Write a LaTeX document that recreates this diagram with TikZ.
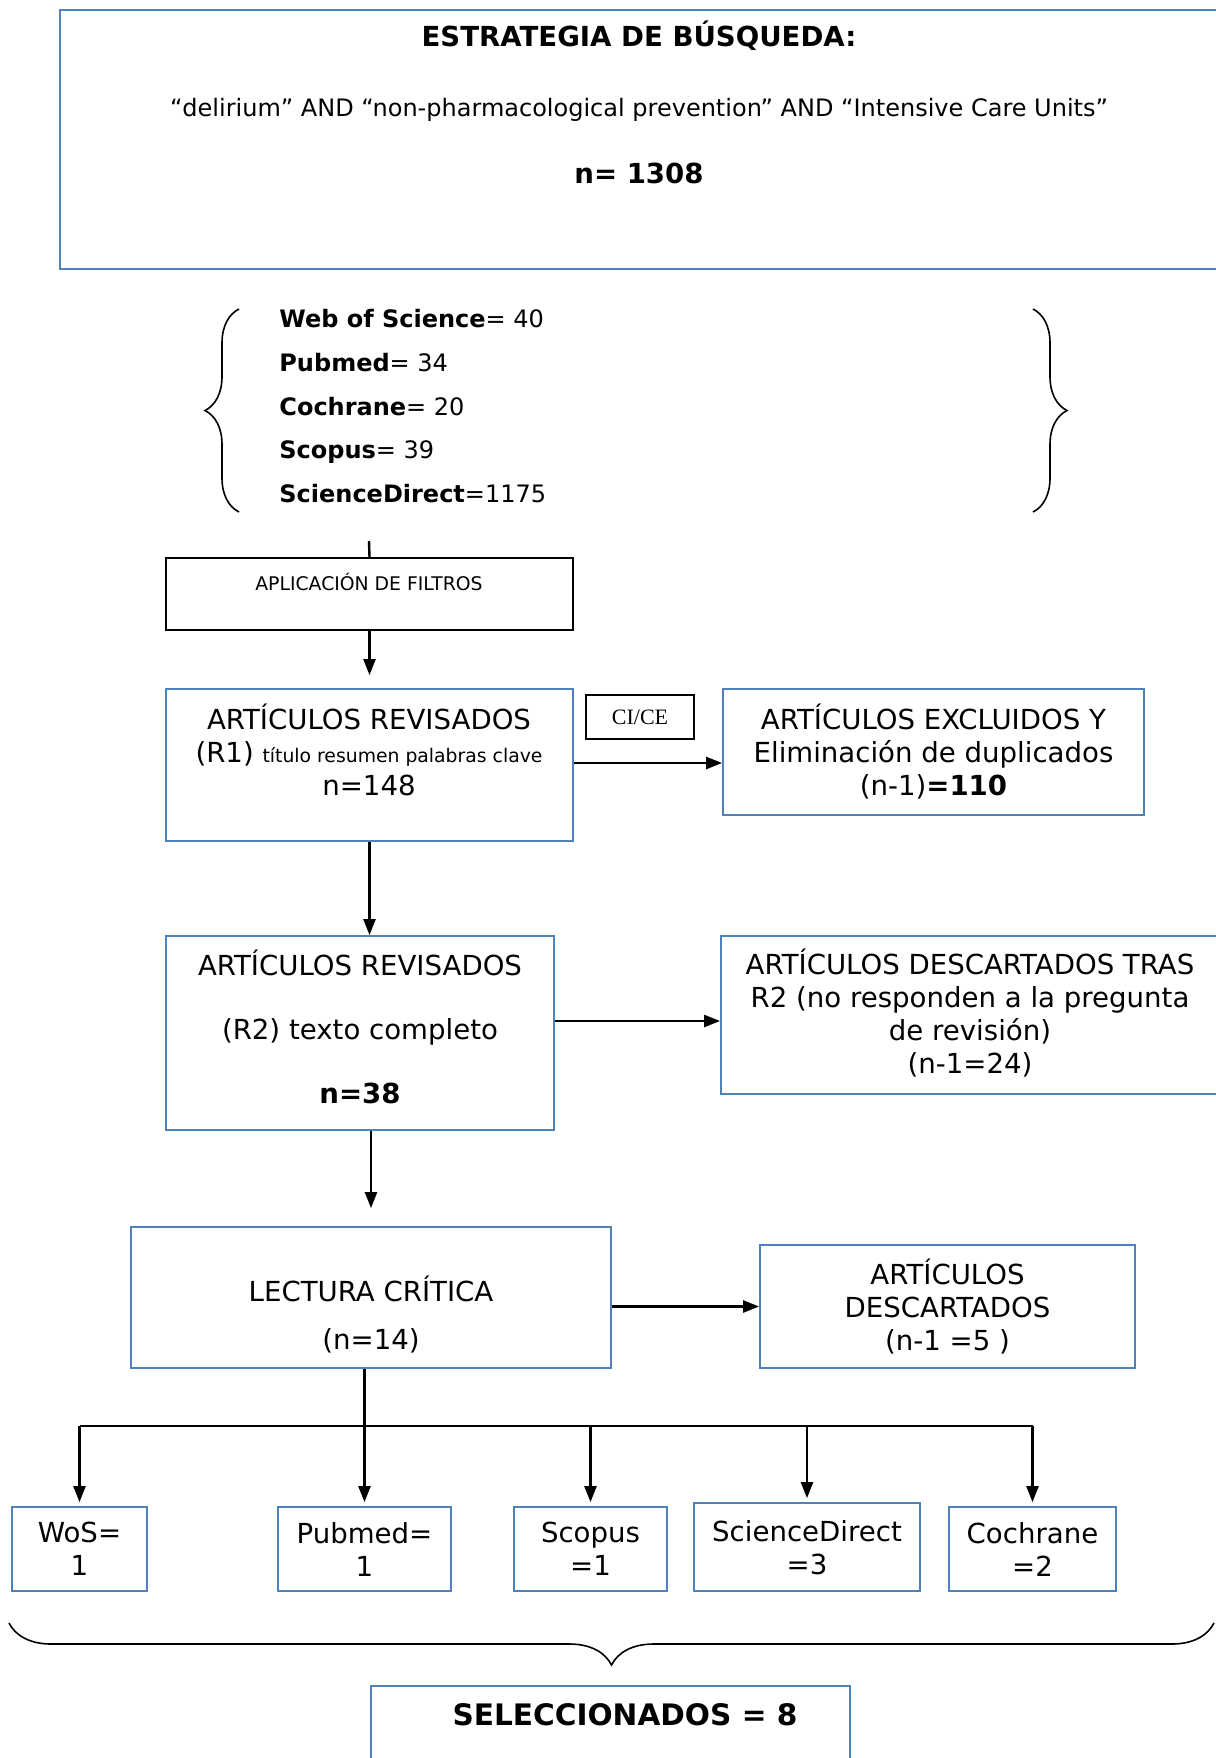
\documentclass[tikz,border=0pt]{standalone}
\usepackage{fontspec}
\setmainfont{DejaVu Sans}
\newfontfamily\cicefont{Liberation Serif}
\usepackage{tikz}
\usetikzlibrary{positioning}
\usetikzlibrary{arrows.meta}
\usetikzlibrary{decorations.pathreplacing}
\usepackage{xcolor}
\definecolor{boxblue}{RGB}{79,129,189}
\newcommand{\flowfont}{\fontsize{13.8}{16.5}\selectfont}
\newcommand{\listfont}{\fontsize{12}{14.5}\selectfont}
\newcommand{\smallflowfont}{\fontsize{9.4}{11}\selectfont}

\tikzset{
  bluebox/.style={draw=boxblue, line width=0.9pt, inner sep=0pt, font=\flowfont, align=center},
  blackbox/.style={draw=black, line width=0.8pt, inner sep=0pt},
  boxtext/.style={font=\flowfont, align=center, inner sep=0pt},
  listtext/.style={font=\listfont, anchor=west, inner sep=0pt, text height=1.6ex, text depth=0.4ex},
  flowarrow/.style={-{Triangle[length=8pt,width=6pt]}, line width=1.2pt},
  flowline/.style={line width=1.2pt},
  bigbrace/.style={decorate, decoration={brace, amplitude=#1}, line width=0.8pt},
}

\begin{document}
\begin{tikzpicture}[x=0.5pt, y=-0.5pt]
  \useasboundingbox (0,0) rectangle (1216,1758);

  % search strategy
  \node[bluebox, minimum width=590pt, minimum height=129.5pt] (search) at (650,139.5) {};
  \node[boxtext, font=\flowfont\bfseries] (searchtitle) at (639,36) {ESTRATEGIA DE BÚSQUEDA:};
  \node[boxtext, font=\listfont] (query) at (639,110) {“delirium” AND “non-pharmacological prevention” AND “Intensive Care Units”};
  \node[boxtext, font=\flowfont\bfseries] (total) at (639,173) {n= 1308};

  % databases
  \draw[bigbrace=17pt] (239,512) -- (239,309);
  \draw[bigbrace=17pt] (1033,309) -- (1033,512);
  \node[listtext] (wosn) at (279,321) {\textbf{Web of Science}= 40};
  \node[listtext] (pubn) at (279,365) {\textbf{Pubmed}= 34};
  \node[listtext] (cochn) at (279,409) {\textbf{Cochrane}= 20};
  \node[listtext] (scopn) at (279,452) {\textbf{Scopus}= 39};
  \node[listtext] (scidn) at (279,496) {\textbf{ScienceDirect}=1175};

  % filters and first review
  \node[blackbox, minimum width=203.5pt, minimum height=36pt] (filter) at (369.5,594) {};
  \node[boxtext, font=\smallflowfont] (filtertext) at (369,582) {APLICACIÓN DE FILTROS};
  \coordinate (stub) at (369,541);
  \draw[flowline] (stub) -- (filter.north);

  \node[bluebox, minimum width=203.5pt, minimum height=76pt] (r1) at (369.5,765) {};
  \node[boxtext] (r1text) at (369,750) {ARTÍCULOS REVISADOS\\(R1) {\smallflowfont título resumen palabras clave}\\n=148};
  \node[blackbox, minimum width=54pt, minimum height=22pt, text depth=-1pt] (cice) at (640,717) {\cicefont\fontsize{11}{13}\selectfont CI/CE};
  \node[bluebox, minimum width=210.5pt, minimum height=63pt] (excl) at (933.5,752)
    {ARTÍCULOS EXCLUIDOS Y\\Eliminación de duplicados\\(n-1)\textbf{=110}};

  % second review
  \node[bluebox, minimum width=194pt, minimum height=97pt] (r2) at (360,1033) {};
  \node[boxtext] (r2text) at (360,1027)
    {ARTÍCULOS REVISADOS\\[15.5pt](R2) texto completo\\[15.5pt]\textbf{n=38}};
  \node[bluebox, minimum width=259.5pt, minimum height=79pt] (descr2) at (980.5,1015) {};
  \node[boxtext] (descr2text) at (970,1013)
    {ARTÍCULOS DESCARTADOS TRAS\\R2 (no responden a la pregunta\\de revisión)\\(n-1=24)};

  % critical reading
  \node[bluebox, minimum width=240pt, minimum height=70.5pt] (lect) at (371,1297.5) {};
  \node[boxtext] (lecttext) at (371,1315) {LECTURA CRÍTICA\\[7.5pt](n=14)};
  \node[bluebox, minimum width=187.5pt, minimum height=61.5pt] (desc) at (947.5,1306.5)
    {ARTÍCULOS\\DESCARTADOS\\(n-1 =5 )};

  % per database
  \node[bluebox, minimum width=67.5pt, minimum height=42pt, text depth=-2pt] (wos) at (79.5,1549) {WoS=\\1};
  \node[bluebox, minimum width=86.5pt, minimum height=42pt, text depth=-2pt] (pubmed) at (364.5,1549) {Pubmed=\\1};
  \node[bluebox, minimum width=76.5pt, minimum height=42pt, text depth=-2pt] (scopus) at (590.5,1549) {Scopus\\=1};
  \node[bluebox, minimum width=113pt, minimum height=44pt, text depth=-2pt] (scidir) at (807,1547) {ScienceDirect\\=3};
  \node[bluebox, minimum width=83.5pt, minimum height=42pt, text depth=-2pt] (cochrane) at (1032.5,1549) {Cochrane\\=2};

  % selected
  \draw[bigbrace=21pt] (1214,1623) -- (9,1623);
  \node[bluebox, minimum width=239.5pt, minimum height=47pt] (selected) at (610.5,1733) {};
  \node[boxtext, font=\fontsize{14.8}{17}\selectfont\bfseries] (selectedtext) at (625,1715) {SELECCIONADOS = 8};

  % arrows
  \draw[flowarrow, shorten >=6.5pt] (filter) -- (r1);
  \draw[flowarrow] ([yshift=1pt]r1.east) -- ([yshift=1pt]r1.east -| excl.west);
  \draw[flowarrow] (r1.south) -- (r1.south |- r2.north);
  \draw[flowarrow] ([yshift=6pt]r2.east) -- ([yshift=6pt]r2.east -| descr2.west);
  \draw[flowarrow, shorten >=9pt] (lect.north |- r2.south) -- (lect.north);
  \draw[flowarrow] (lect.east |- desc.west) -- (desc.west);
  \draw[flowarrow, shorten >=2pt] (pubmed.north |- lect.south) -- (pubmed.north);
  \coordinate (bus) at (0,1426);
  \draw[flowline] (wos.north |- bus) -- (cochrane.north |- bus);
  \draw[flowarrow, shorten >=2pt] (wos.north |- bus) -- (wos.north);
  \draw[flowarrow, shorten >=2pt] (scopus.north |- bus) -- (scopus.north);
  \draw[flowarrow, shorten >=2pt] (scidir.north |- bus) -- (scidir.north);
  \draw[flowarrow, shorten >=2pt] (cochrane.north |- bus) -- (cochrane.north);
\end{tikzpicture}
\end{document}
